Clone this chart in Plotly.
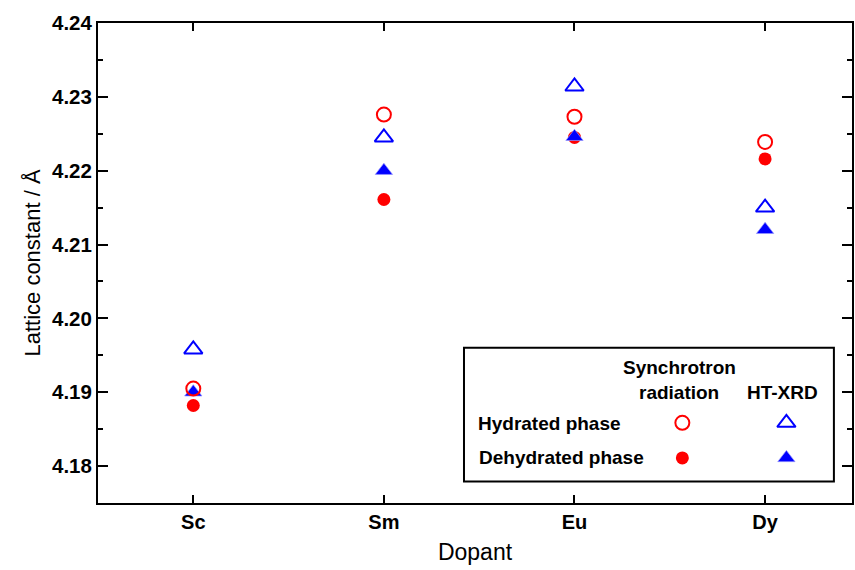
import plotly.graph_objects as go

dopants = ["Sc", "Sm", "Eu", "Dy"]
sr_hydrated = [4.1905, 4.2276, 4.2273, 4.2239]
sr_dehydrated = [4.1882, 4.2161, 4.2245, 4.2216]
ht_hydrated = [4.1958, 4.2245, 4.2314, 4.2150]
ht_dehydrated = [4.1900, 4.2200, 4.2246, 4.2120]

yticks = [4.18, 4.19, 4.20, 4.21, 4.22, 4.23, 4.24]
ytick_text = ["4.18", "4.19", "4.20", "4.21", "4.22", "4.23", "4.24"]

RED = "#ff0000"
BLUE = "#0000ff"
FONT = "Liberation Sans, Arial, sans-serif"

fig = go.Figure()
xi = list(range(len(dopants)))

fig.add_trace(go.Scatter(x=xi, y=sr_dehydrated, mode="markers",
                         marker=dict(symbol="circle", size=13, color=RED, line=dict(width=0))))
fig.add_trace(go.Scatter(x=xi, y=ht_dehydrated, mode="markers",
                         marker=dict(symbol="triangle-up", size=15, color=BLUE,
                                     line=dict(width=1, color="rgba(150,150,255,0.7)"))))
fig.add_trace(go.Scatter(x=xi, y=sr_hydrated, mode="markers",
                         marker=dict(symbol="circle-open", size=14, color=RED, line=dict(width=2))))
fig.add_trace(go.Scatter(x=xi, y=ht_hydrated, mode="markers",
                         marker=dict(symbol="triangle-up-open", size=16, color=BLUE, line=dict(width=2))))

# legend markers on an overlay axis (paper-like 0..1)
lx_circle = 0.775
lx_tri = 0.913
ly_h = 0.167
ly_d = 0.094
fig.add_trace(go.Scatter(x=[lx_circle], y=[ly_h], mode="markers", xaxis="x2", yaxis="y2",
                         marker=dict(symbol="circle-open", size=14, color=RED, line=dict(width=2))))
fig.add_trace(go.Scatter(x=[lx_circle], y=[ly_d], mode="markers", xaxis="x2", yaxis="y2",
                         marker=dict(symbol="circle", size=13, color=RED)))
fig.add_trace(go.Scatter(x=[lx_tri], y=[ly_h], mode="markers", xaxis="x2", yaxis="y2",
                         marker=dict(symbol="triangle-up-open", size=16, color=BLUE, line=dict(width=2))))
fig.add_trace(go.Scatter(x=[lx_tri], y=[ly_d], mode="markers", xaxis="x2", yaxis="y2",
                         marker=dict(symbol="triangle-up", size=15, color=BLUE,
                                     line=dict(width=1, color="rgba(150,150,255,0.7)"))))

axis_common = dict(showline=True, linecolor="black", linewidth=2, mirror="ticks",
                   ticks="inside", tickcolor="black", tickwidth=2, showgrid=False, zeroline=False)

fig.update_layout(
    width=855, height=570,
    margin=dict(l=98, r=1, t=23, b=67),
    plot_bgcolor="white", paper_bgcolor="white",
    showlegend=False,
    font=dict(family=FONT, color="black"),
    xaxis=dict(**axis_common, range=[-0.5, 3.456], tickvals=xi, ticktext=dopants,
               ticklen=8, tickfont=dict(size=20, family=FONT, weight="bold"),
               title=dict(text="Dopant", font=dict(size=23, family=FONT), standoff=12)),
    yaxis=dict(**axis_common, range=[4.175, 4.24], tickvals=yticks, ticktext=ytick_text,
               ticklen=10, tickfont=dict(size=20.5, family=FONT, weight="bold"),
               minor=dict(ticks="inside", ticklen=5, tickwidth=2, tickcolor="black", dtick=0.005,
                          tick0=4.175),
               title=dict(text="Lattice constant / Å", font=dict(size=22, family=FONT), standoff=5)),
    xaxis2=dict(overlaying="x", range=[0, 1], visible=False, domain=[0, 1]),
    yaxis2=dict(overlaying="y", range=[0, 1], visible=False),
)

# legend box
fig.add_shape(type="rect", xref="paper", yref="paper", x0=0.4854, x1=0.976, y0=0.0447, y1=0.3236,
              line=dict(color="black", width=2), fillcolor="white", layer="below")

ann_font = dict(size=19, family=FONT, color="black", weight="bold")
fig.add_annotation(xref="paper", yref="paper", x=lx_circle - 0.004, y=0.282, text="Synchrotron",
                   showarrow=False, font=ann_font, xanchor="center", yanchor="middle")
fig.add_annotation(xref="paper", yref="paper", x=lx_circle - 0.004, y=0.230, text="radiation",
                   showarrow=False, font=ann_font, xanchor="center", yanchor="middle")
fig.add_annotation(xref="paper", yref="paper", x=lx_tri - 0.005, y=0.230, text="HT-XRD",
                   showarrow=False, font=ann_font, xanchor="center", yanchor="middle")
fig.add_annotation(xref="paper", yref="paper", x=0.501, y=ly_h - 0.002, text="Hydrated phase",
                   showarrow=False, font=ann_font, xanchor="left", yanchor="middle")
fig.add_annotation(xref="paper", yref="paper", x=0.503, y=ly_d, text="Dehydrated phase",
                   showarrow=False, font=ann_font, xanchor="left", yanchor="middle")

fig.write_html("out.html")
